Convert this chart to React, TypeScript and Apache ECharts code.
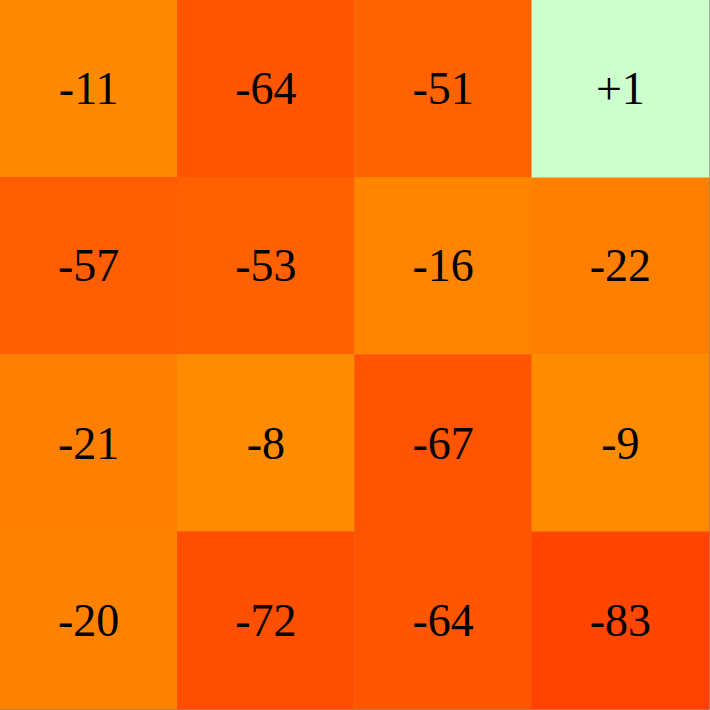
import React, { useEffect, useRef } from "react";
import * as echarts from "echarts";

const columns = ["c1", "c2", "c3", "c4"];
const rows = ["r1", "r2", "r3", "r4"];
const row1 = [-11, -64, -51, 1];
const row2 = [-57, -53, -16, -22];
const row3 = [-21, -8, -67, -9];
const row4 = [-20, -72, -64, -83];
const grid = [row1, row2, row3, row4];

export default function App() {
  const ref = useRef<HTMLDivElement>(null);
  useEffect(() => {
    document.body.style.margin = "0";
    const chart = echarts.init(ref.current!, null, { renderer: "svg" });
    const neg: any[] = [];
    const pos: any[] = [];
    grid.forEach((r, ri) =>
      r.forEach((v, ci) => (v > 0 ? pos : neg).push([ci, ri, v]))
    );
    const label = {
      show: true,
      fontFamily: "Liberation Serif",
      fontSize: 46,
      color: "#000000",
      formatter: (p: any) => {
        const v = p.value[2];
        return v > 0 ? "+" + v : String(v);
      },
    };
    chart.setOption({
      animation: false,
      backgroundColor: "#ffffff",
      grid: { left: 0, top: 0, right: 1, bottom: 1 },
      xAxis: {
        type: "category",
        data: columns,
        position: "bottom",
        axisLine: { show: true, lineStyle: { color: "#888888", width: 1 } },
        axisTick: { show: false },
        axisLabel: { show: false },
        splitArea: { show: false },
      },
      yAxis: {
        type: "category",
        data: rows,
        inverse: true,
        position: "right",
        axisLine: { show: true, lineStyle: { color: "#888888", width: 1 } },
        axisTick: { show: false },
        axisLabel: { show: false },
      },
      visualMap: [
        {
          show: false,
          type: "continuous",
          seriesIndex: 0,
          min: -83,
          max: -8,
          dimension: 2,
          inRange: { color: ["#FF4500", "#FF8C00"] },
        },
        {
          show: false,
          type: "continuous",
          seriesIndex: 1,
          min: 0,
          max: 10,
          dimension: 2,
          inRange: { color: ["#CCFFCC", "#CCFFCC"] },
        },
      ],
      series: [
        { type: "heatmap", data: neg, itemStyle: { borderWidth: 0 }, label },
        { type: "heatmap", data: pos, itemStyle: { borderWidth: 0 }, label },
      ],
    });
    return () => chart.dispose();
  }, []);
  return <div ref={ref} style={{ width: 710, height: 710 }} />;
}
